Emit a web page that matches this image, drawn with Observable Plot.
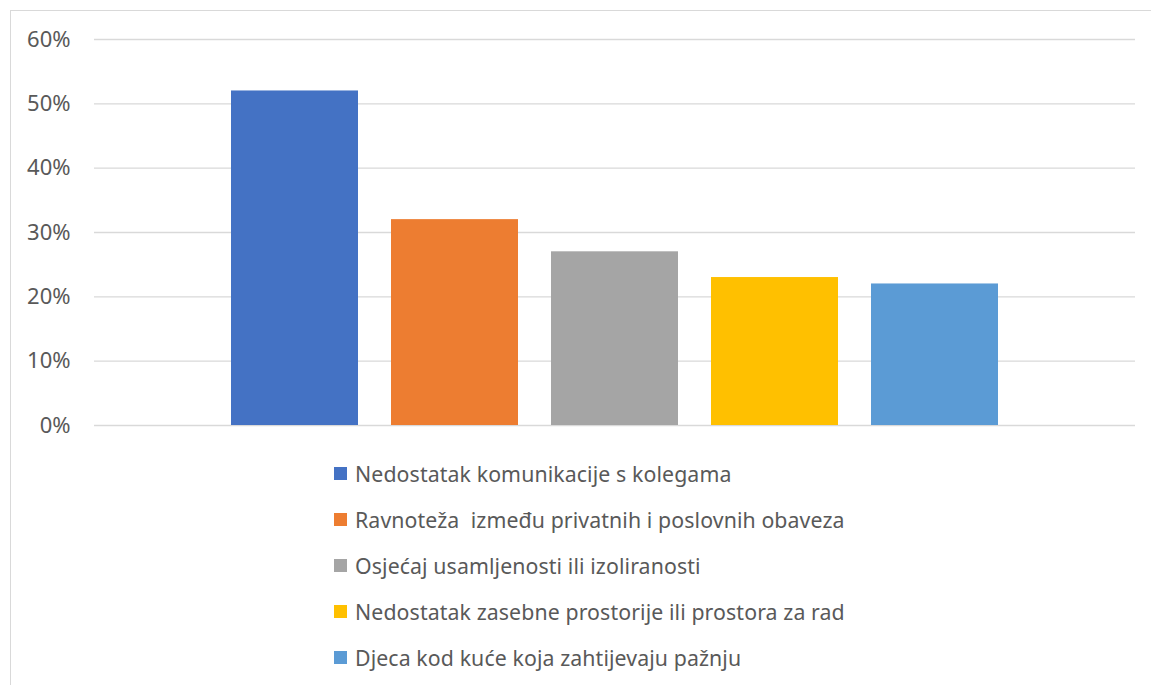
<!DOCTYPE html>
<html>
<head>
<meta charset="utf-8">
<script src="https://cdn.jsdelivr.net/npm/d3@7"></script>
<script src="https://cdn.jsdelivr.net/npm/@observablehq/plot@0.6"></script>
<style>
  html, body { margin: 0; padding: 0; background: #fff; overflow: hidden; }
  body { width: 1151px; height: 685px; position: relative; font-family: "Noto Sans", sans-serif; }
  #frame { position: absolute; left: 10px; top: 10px; width: 1200px; height: 700px;
           border-left: 1.5px solid #d9d9d9; border-top: 1.5px solid #d9d9d9; pointer-events: none; }
  #chart svg { display: block; }
  #legend { margin-left: 334px; padding-top: 1px; }
  .row { height: 45.8px; display: flex; align-items: center; }
  .sw { width: 13px; height: 13px; margin-right: 8px; flex: none; }
  .lb { font-size: 21.3px; color: #595959; white-space: pre; letter-spacing: 0.1px; }
</style>
</head>
<body>
<div id="frame"></div>
<div id="chart"></div>
<div id="legend"></div>
<script>
const categories = [
  "Nedostatak komunikacije s kolegama",
  "Ravnoteža  između privatnih i poslovnih obaveza",
  "Osjećaj usamljenosti ili izoliranosti",
  "Nedostatak zasebne prostorije ili prostora za rad",
  "Djeca kod kuće koja zahtijevaju pažnju"
];
const values = [0.52, 0.32, 0.27, 0.23, 0.22];
const colors = ["#4472C4", "#ED7D31", "#A5A5A5", "#FFC000", "#5B9BD5"];
const yTicks = [0, 0.1, 0.2, 0.3, 0.4, 0.5, 0.6];

const data = categories.map((c, i) => ({category: c, value: values[i]}));

const chart = Plot.plot({
  width: 1151,
  height: 450,
  marginTop: 39,
  marginBottom: 25,
  marginLeft: 94,
  marginRight: 16,
  style: {fontFamily: "Noto Sans, sans-serif", color: "#595959", background: "transparent"},
  x: {domain: categories, paddingInner: 0.206, paddingOuter: 0.856, axis: null},
  y: {domain: [0, 0.6], ticks: yTicks, tickFormat: d => Math.round(d * 100) + "%",
      tickSize: 0, tickPadding: 24, label: null},
  color: {domain: categories, range: colors},
  marks: [
    Plot.ruleY(yTicks, {stroke: "#d9d9d9", strokeWidth: 1.3, strokeOpacity: 1}),
    Plot.barY(data, {x: "category", y: "value", fill: "category"}),
    Plot.axisY({ticks: yTicks, tickFormat: d => Math.round(d * 100) + "%", tickSize: 0,
                tickPadding: 24, fontSize: 22, label: null, fill: "#595959"})
  ]
});
document.getElementById("chart").appendChild(chart);

const legend = document.getElementById("legend");
categories.forEach((c, i) => {
  const row = document.createElement("div");
  row.className = "row";
  const sw = document.createElement("div");
  sw.className = "sw";
  sw.style.background = colors[i];
  const lb = document.createElement("span");
  lb.className = "lb";
  lb.textContent = c;
  row.appendChild(sw);
  row.appendChild(lb);
  legend.appendChild(row);
});
</script>
</body>
</html>
